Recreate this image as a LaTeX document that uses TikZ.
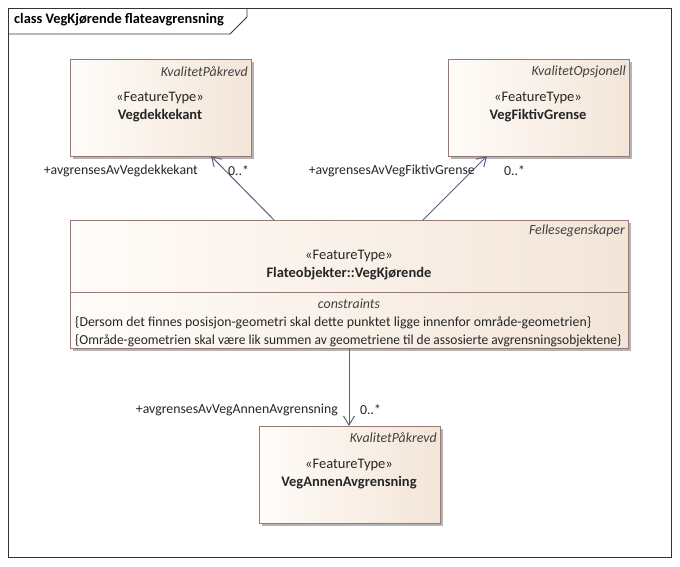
\documentclass[tikz,border=0pt]{standalone}
\usepackage{fontspec}
\setmainfont{Carlito}
\usetikzlibrary{arrows.meta}
\definecolor{bordc}{RGB}{150,122,118}
\definecolor{fillL}{RGB}{255,252,249}
\definecolor{fillR}{RGB}{243,229,216}
\definecolor{linec}{RGB}{88,98,128}
\definecolor{shad}{RGB}{180,180,180}
\tikzset{
  cls/.style={draw=bordc, line width=0.9pt, left color=fillL, right color=fillR, anchor=north west, inner sep=0pt},
  shadowbox/.style={fill=shad, draw=none, anchor=north west, inner sep=0pt},
  txt/.style={font=\fontsize{14.5}{16}\selectfont, inner sep=0pt, text=black!85},
  itxt/.style={txt, font=\fontsize{13.9}{16}\selectfont\itshape, text=black!75},
  btxt/.style={txt, font=\fontsize{14.5}{16}\selectfont\bfseries},
  ttxt/.style={txt, font=\fontsize{14.4}{16}\selectfont\bfseries, text=black},
  assoc/.style={draw=linec, line width=1pt, -{Straight Barb[length=9pt,width=11pt,line width=1pt]}},
  lbl/.style={txt, font=\fontsize{13.8}{16}\selectfont},
}
\begin{document}
\begin{tikzpicture}[x=1pt,y=-1pt]
\useasboundingbox (0,0) rectangle (680,566);
\fill[white] (0,0) rectangle (680,566);
% frame
\draw[black!80, line width=0.8pt] (8,8) rectangle (671,557);
\draw[black!80, line width=0.8pt] (8,34) -- (230,34) -- (247,17) -- (247,8);
\node[ttxt, anchor=west] (title) at (14,20) {class VegKjørende flateavgrensning};
% shadows
\node[shadowbox, minimum width=181pt, minimum height=97pt] (s1) at (73,62) {};
\node[shadowbox, minimum width=181pt, minimum height=97pt] (s2) at (451,62) {};
\node[shadowbox, minimum width=558pt, minimum height=128pt] (s3) at (73,223) {};
\node[shadowbox, minimum width=181pt, minimum height=97pt] (s4) at (262,429) {};
% boxes
\node[cls, minimum width=181pt, minimum height=97pt] (a) at (70,59) {};
\node[cls, minimum width=181pt, minimum height=97pt] (b) at (448,59) {};
\node[cls, minimum width=558pt, minimum height=128pt] (c) at (70,220) {};
\node[cls, minimum width=181pt, minimum height=97pt] (d) at (259,426) {};
\draw[bordc, line width=0.9pt] (c.west |- 0,292) coordinate (sepL) -- (c.east |- 0,292) coordinate (sepR);
% texts box a
\node[itxt, anchor=east] (a1) at (248,72) {KvalitetPåkrevd};
\node[txt] (a2) at (160,98) {«FeatureType»};
\node[btxt] (a3) at (160,116) {Vegdekkekant};
% box b
\node[itxt, anchor=east] (b1) at (626,72) {KvalitetOpsjonell};
\node[txt] (b2) at (538,98) {«FeatureType»};
\node[btxt] (b3) at (538,116) {VegFiktivGrense};
% box c
\node[itxt, anchor=east] (c1) at (625,231) {Fellesegenskaper};
\node[txt] (c2) at (349,256) {«FeatureType»};
\node[btxt] (c3) at (349,274) {Flateobjekter::VegKjørende};
\node[itxt] (c4) at (349,304) {constraints};
\node[lbl, anchor=west] (c5) at (75,323) {\{Dersom det finnes posisjon-geometri skal dette punktet ligge innenfor område-geometrien\}};
\node[lbl, anchor=west] (c6) at (75,341) {\scalebox{0.975}[1]{\{Område-geometrien skal være lik summen av geometriene til de assosierte avgrensningsobjektene\}}};
% box d
\node[itxt, anchor=east] (d1) at (437,438) {KvalitetPåkrevd};
\node[txt] (d2) at (349,465) {«FeatureType»};
\node[btxt] (d3) at (349,483) {VegAnnenAvgrensning};
% connectors
\coordinate (p1) at (274,220);
\coordinate (q1) at (211,156);
\coordinate (p2) at (423,220);
\coordinate (q2) at (487,156);
\coordinate (p3) at (349,348);
\coordinate (q3) at (349,426);
\draw[assoc] (p1) -- (q1);
\draw[assoc] (p2) -- (q2);
\draw[assoc] (p3) -- (q3);
% labels
\node[lbl, anchor=east] (l1) at (198,171) {+avgrensesAvVegdekkekant};
\node[lbl, anchor=west] (m1) at (228,171) {0..*};
\node[lbl, anchor=east] (l2) at (475,171) {+avgrensesAvVegFiktivGrense};
\node[lbl, anchor=west] (m2) at (504,171) {0..*};
\node[lbl, anchor=east] (l3) at (338,410) {+avgrensesAvVegAnnenAvgrensning};
\node[lbl, anchor=west] (m3) at (360,410) {0..*};
\end{tikzpicture}
\end{document}
